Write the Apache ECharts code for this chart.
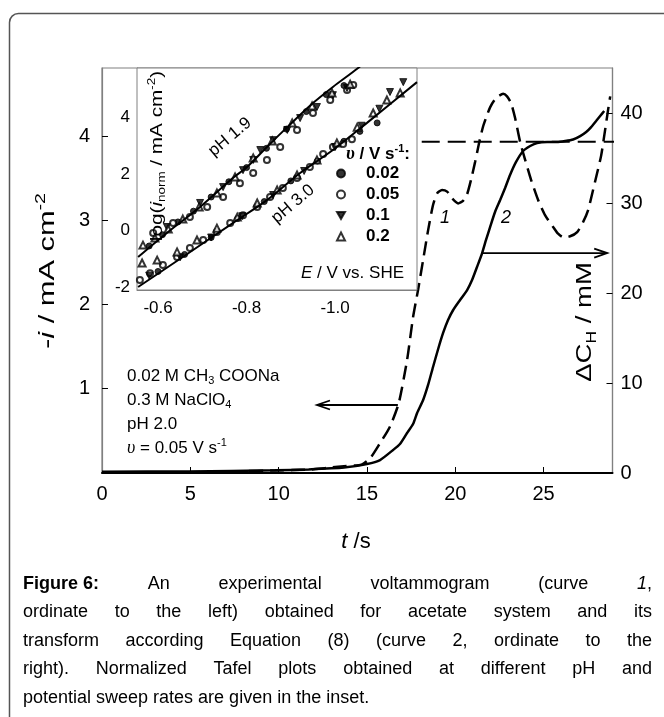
<!DOCTYPE html>
<html><head><meta charset="utf-8">
<script src="https://cdn.jsdelivr.net/npm/echarts@6/dist/echarts.min.js"></script>
<style>html,body{margin:0;padding:0;background:#fff}#c{width:664px;height:717px}</style>
</head><body><div id="c"></div>
<script>
// ---------- main plot data ----------
const tCurve1 = [0,4.9,7.8,9.8,11.7,12.7,13.7,14.7,15.2,15.7,16.3,16.8,17.27,17.61,17.89,18.18,18.46,18.74,18.97,19.25,19.54,19.82,20.16,20.44,20.67,20.89,21.12,21.35,21.57,21.8,21.97,22.2,22.42,22.71,22.93,23.16,23.39,23.67,23.95,24.29,24.69,25.08,25.54,25.82,26.1,26.5,26.9,27.24,27.52,27.8,28.03,28.26,28.48,28.65,28.77];
const iCurve1 = [0.01,0.01,0.02,0.03,0.04,0.06,0.08,0.10,0.18,0.34,0.55,0.83,1.34,1.85,2.17,2.53,2.88,3.18,3.32,3.36,3.34,3.26,3.20,3.23,3.31,3.48,3.69,3.92,4.11,4.25,4.34,4.42,4.47,4.50,4.47,4.39,4.21,3.93,3.72,3.48,3.24,3.06,2.92,2.84,2.80,2.81,2.86,2.98,3.12,3.36,3.56,3.77,4.07,4.31,4.47];
const tCurve2 = [0,4.9,9.8,11.7,13.7,15.0,15.74,16.48,16.87,17.27,17.61,17.84,18.18,18.46,18.74,19.03,19.31,19.59,19.88,20.27,20.67,20.95,21.23,21.52,21.74,21.97,22.25,22.54,22.82,23.1,23.44,23.84,24.24,24.63,25.2,25.76,26.22,26.67,27.07,27.41,27.69,27.97,28.2,28.43];
const cCurve2 = [0.15,0.17,0.30,0.40,0.60,1.0,1.44,2.56,3.22,4.44,5.44,6.67,8.11,9.78,11.78,13.78,15.56,17.0,18.11,19.22,20.33,21.44,22.89,24.44,25.89,27.33,29.0,30.33,31.67,33.11,34.56,35.78,36.33,36.67,36.78,36.78,36.89,37.06,37.44,37.89,38.44,39.11,39.67,40.22];
const tLimit = [18.1, 29.4];
const cLimit = [36.8, 36.8];
const xTickLabels = [0,5,10,15,20,25];
const leftTickLabels = [1,2,3,4];
const rightTickLabels = [0,10,20,30,40];
// ---------- inset data (E / V, log i_norm) ----------
const insetXLabels = [-1.0,-0.8,-0.6];
const insetYLabels = [-2,0,2,4];
const ePH19 = [-0.555,-0.620,-0.695,-0.769,-0.801,-0.846,-0.892,-0.950,-0.995,-1.052,-1.07];
const lPH19 = [-0.94,-0.09,0.83,1.85,2.24,2.95,3.65,4.50,5.07,5.74,6.0];
const ePH30 = [-0.555,-0.656,-0.769,-0.846,-0.921,-0.995,-1.072,-1.185];
const lPH30 = [-2.0,-0.94,0.26,1.07,2.03,2.84,3.80,5.24];
const e19_002 = [-0.58,-0.61,-0.645,-0.68,-0.72,-0.76,-0.80,-0.845,-0.89,-0.935,-0.98,-1.02];
const l19_002 = [-0.55,-0.15,0.30,0.68,1.18,1.72,2.22,2.90,3.58,4.20,4.80,5.12];
const e19_005 = [-0.589,-0.634,-0.672,-0.711,-0.747,-0.785,-0.815,-0.846,-0.876,-0.914,-0.950,-0.989,-1.027,-1.041];
const l19_005 = [-0.09,0.26,0.47,0.83,1.18,1.67,2.03,2.49,2.95,3.55,4.15,4.61,4.96,5.14];
const e19_01 = [-0.62,-0.695,-0.747,-0.792,-0.815,-0.831,-0.860,-0.892,-0.921,-0.959,-0.995,-1.027];
const l19_01 = [0.12,0.97,1.53,2.13,2.49,2.84,3.19,3.55,3.97,4.36,4.78,5.03];
const e19_02 = [-0.566,-0.593,-0.623,-0.656,-0.693,-0.733,-0.774,-0.815,-0.858,-0.903,-0.948,-0.993,-1.034];
const l19_02 = [-0.52,-0.27,0.05,0.40,0.83,1.32,1.89,2.56,3.16,3.80,4.40,4.86,5.17];
const e30_002 = [-0.60,-0.66,-0.72,-0.78,-0.84,-0.90,-0.96,-1.02,-1.056,-1.095];
const l30_002 = [-1.45,-0.85,-0.25,0.42,1.02,1.75,2.45,3.15,3.50,3.80];
const e30_005 = [-0.559,-0.582,-0.611,-0.643,-0.672,-0.702,-0.733,-0.763,-0.792,-0.824,-0.853,-0.882,-0.914,-0.943,-0.973,-0.995,-1.018,-1.038];
const l30_005 = [-1.75,-1.51,-1.22,-0.94,-0.62,-0.34,-0.06,0.26,0.54,0.83,1.18,1.50,1.85,2.24,2.70,2.95,3.05,3.22];
const e30_01 = [-0.58,-0.65,-0.72,-0.79,-0.86,-0.93,-1.00,-1.06,-1.10,-1.124,-1.154];
const l30_01 = [-1.60,-0.95,-0.25,0.50,1.25,2.10,2.95,3.70,4.30,4.89,5.24];
const e30_02 = [-0.564,-0.598,-0.643,-0.688,-0.733,-0.779,-0.824,-0.869,-0.914,-0.959,-1.004,-1.050,-1.086,-1.117,-1.147];
const l30_02 = [-1.15,-1.05,-0.76,-0.34,0.08,0.47,0.97,1.43,1.96,2.49,3.09,3.65,4.15,4.61,4.86];
const rateNames = ['0.02','0.05','0.1','0.2'];

const FF = 'Liberation Sans, Arial, Helvetica, sans-serif';
const SERIF = 'Liberation Serif, DejaVu Serif, serif';
const zip = (a, b) => a.map((v, k) => [v, b[k]]);
function rs(size, o) {
  return Object.assign({fontSize: size, fontFamily: FF, fill: '#000', lineHeight: Math.round(size * 1.25), verticalAlign: 'middle'}, o || {});
}
function richSet(size, bold) {
  const w = bold ? 'bold' : 'normal';
  const sm = Math.round(size * 0.64);
  const lh = Math.round(size * 1.25);
  return {
    n: rs(size, {fontWeight: w, lineHeight: lh}),
    i: rs(size, {fontWeight: w, fontStyle: 'italic', lineHeight: lh}),
    u: rs(size + 1, {fontWeight: w, fontStyle: 'italic', fontFamily: SERIF, lineHeight: lh}),
    s: rs(sm, {fontWeight: w, lineHeight: sm, verticalAlign: 'top'}),
    b: rs(sm, {fontWeight: w, lineHeight: sm, verticalAlign: 'bottom'})
  };
}

const downTri = 'path://M0,0L10,0L5,8.66Z';
function scatter(name, e, l, symbol, size) {
  return {type: 'scatter', name: name, xAxisIndex: 1, yAxisIndex: 2, data: zip(e, l), symbol: symbol, symbolSize: size,
    itemStyle: {color: '#000', borderColor: '#000', borderWidth: 1}, z: 4, silent: true};
}

const chart = echarts.init(document.getElementById('c'), null, {renderer: 'canvas'});
const axisGray = '#808080';
const option = {
  animation: false,
  backgroundColor: '#fff',
  grid: [
    {left: 102, top: 68, width: 510.5, height: 405, show: true, borderColor: axisGray, borderWidth: 1.2, backgroundColor: 'transparent'},
    {left: 137, top: 68, width: 280, height: 222, show: true, borderColor: axisGray, borderWidth: 1, backgroundColor: '#fff', z: 3}
  ],
  xAxis: [
    {gridIndex: 0, type: 'value', min: 0, max: 28.9,
      axisLine: {show: true, onZero: false, lineStyle: {color: '#000', width: 2}},
      axisTick: {show: true, inside: true, length: 6, customValues: [5,10,15,20,25], lineStyle: {color: '#000', width: 1}},
      axisLabel: {customValues: xTickLabels, fontSize: 20, color: '#000', fontFamily: FF, margin: 11},
      splitLine: {show: false}},
    {gridIndex: 1, type: 'value', inverse: true, min: -1.185, max: -0.5525,
      axisLine: {show: true, onZero: false, lineStyle: {color: axisGray, width: 1}},
      axisTick: {show: true, inside: true, length: 6, customValues: insetXLabels, lineStyle: {color: '#000', width: 1}},
      axisLabel: {customValues: insetXLabels, formatter: v => v.toFixed(1), fontSize: 17, color: '#000', fontFamily: FF, margin: 10},
      splitLine: {show: false}}
  ],
  yAxis: [
    {gridIndex: 0, type: 'value', position: 'left', min: 0, max: 4.807,
      axisLine: {show: true, onZero: false, lineStyle: {color: axisGray, width: 1.2}},
      axisTick: {show: true, inside: true, length: 6, customValues: leftTickLabels, lineStyle: {color: '#000', width: 1}},
      axisLabel: {customValues: leftTickLabels, fontSize: 20, color: '#000', fontFamily: FF, margin: 12},
      splitLine: {show: false}},
    {gridIndex: 0, type: 'value', position: 'right', min: 0, max: 45,
      axisLine: {show: true, onZero: false, lineStyle: {color: axisGray, width: 1.2}},
      axisTick: {show: true, inside: true, length: 6, customValues: [10,20,30,40], lineStyle: {color: '#000', width: 1}},
      axisLabel: {customValues: rightTickLabels, fontSize: 20, color: '#000', fontFamily: FF, margin: 8},
      splitLine: {show: false}},
    {gridIndex: 1, type: 'value', min: -2.106, max: 5.74,
      axisLine: {show: true, onZero: false, lineStyle: {color: axisGray, width: 1}},
      axisTick: {show: false},
      axisLabel: {customValues: insetYLabels, fontSize: 17, color: '#000', fontFamily: FF, margin: 7},
      splitLine: {show: false}}
  ],
  legend: {
    data: rateNames, orient: 'vertical', left: 336, top: 165, itemWidth: 8, itemHeight: 8, itemGap: 4, padding: 0,
    selectedMode: false,
    formatter: n => '{g|}{v|' + n + '}',
    textStyle: {color: '#000', fontFamily: FF, fontSize: 17, fontWeight: 'bold',
      rich: {g: {width: 16}, v: {fontSize: 17, fontWeight: 'bold', fontFamily: FF, lineHeight: 19}}}
  },
  series: [
    {type: 'line', name: 'curve1', xAxisIndex: 0, yAxisIndex: 0, data: zip(tCurve1, iCurve1), showSymbol: false, smooth: 0.2,
      lineStyle: {color: '#000', width: 2.5, type: [14, 7]}, z: 2, silent: true},
    {type: 'line', name: 'curve2', xAxisIndex: 0, yAxisIndex: 1, data: zip(tCurve2, cCurve2), showSymbol: false, smooth: 0.2,
      lineStyle: {color: '#000', width: 2.5}, z: 2, silent: true},
    {type: 'line', name: 'limit', xAxisIndex: 0, yAxisIndex: 1, data: zip(tLimit, cLimit), showSymbol: false, clip: false,
      lineStyle: {color: '#000', width: 2, type: [18, 8]}, z: 2, silent: true},
    scatter('0.02', e19_002, l19_002, 'circle', 6),
    scatter('0.05', e19_005, l19_005, 'emptyCircle', 6),
    scatter('0.1', e19_01, l19_01, downTri, 7),
    scatter('0.2', e19_02, l19_02, 'emptyTriangle', 7),
    scatter('0.02', e30_002, l30_002, 'circle', 6),
    scatter('0.05', e30_005, l30_005, 'emptyCircle', 6),
    scatter('0.1', e30_01, l30_01, downTri, 7),
    scatter('0.2', e30_02, l30_02, 'emptyTriangle', 7),
    {type: 'line', name: 'pH 1.9', xAxisIndex: 1, yAxisIndex: 2, data: zip(ePH19, lPH19), showSymbol: false, smooth: 0.3,
      lineStyle: {color: '#000', width: 2}, z: 6, silent: true},
    {type: 'line', name: 'pH 3.0', xAxisIndex: 1, yAxisIndex: 2, data: zip(ePH30, lPH30), showSymbol: false, smooth: 0.3,
      lineStyle: {color: '#000', width: 2}, z: 6, silent: true}
  ]
};
chart.setOption(option);

// ---------- annotations ----------
const g = [];
g.push({type: 'rect', shape: {x: 9.5, y: 13.5, width: 720, height: 760, r: 9}, style: {fill: 'none', stroke: '#555', lineWidth: 1.5}, silent: true, z: 1});
const R22 = richSet(22), R17 = richSet(17), R17b = richSet(17, true), R18 = richSet(18);
function T(x, y, text, rich, align, rot, sx) {
  return {type: 'text', x: x, y: y, z: 100, silent: true, rotation: rot || 0, scaleX: sx || 1, scaleY: 1,
    style: {text: text, rich: rich, align: align || 'center', verticalAlign: 'middle'}};
}
// rotated axis titles (stretched along the text direction as in the source image)
g.push(T(48, 271, '{n|-}{i|i}{n| / mA cm}{s|-2}', R22, 'center', Math.PI / 2, 1.4));
g.push(T(585, 322, '{n|ΔC}{b|H}{n| / mM}', R22, 'center', Math.PI / 2, 1.25));
g.push(T(356, 542, '{i|t}{n| /s}', R22, 'center'));
// text block
const blockLines = ['{n|0.02 M CH}{b|3}{n| COONa}', '{n|0.3 M NaClO}{b|4}', '{n|pH 2.0}', '{u|υ}{n| = 0.05 V s}{s|-1}'];
blockLines.forEach((s, k) => g.push(T(127, 376 + k * 24, s, R17, 'left')));
// curve labels
g.push(T(445, 218, '{i|1}', R18));
g.push(T(506, 218, '{i|2}', R18));
// inset texts
g.push(T(157, 156, '{n|log(}{i|i}{b|norm}{n| / mA cm}{s|-2}{n|)}', R17, 'center', Math.PI / 2, 1.22));
g.push(T(230, 137, '{n|pH 1.9}', R17, 'center', 40 * Math.PI / 180));
g.push(T(293, 204, '{n|pH 3.0}', R17, 'center', 40 * Math.PI / 180));
g.push(T(410, 154, '{u|υ}{n| / V s}{s|-1}{n|:}', R17b, 'right'));
g.push(T(404, 273, '{i|E}{n| / V vs. SHE}', R17, 'right'));

// arrows anchored to data
function px(t, v, yi) { return chart.convertToPixel({xAxisIndex: 0, yAxisIndex: yi}, [t, v]); }
function arrow(a, b) {
  const dir = b[0] > a[0] ? 1 : -1;
  g.push({type: 'polyline', shape: {points: [a, b]}, style: {stroke: '#000', lineWidth: 1.8, fill: 'none'}, silent: true, z: 50});
  g.push({type: 'polyline', shape: {points: [[b[0] - dir * 13, b[1] - 4.5], b, [b[0] - dir * 13, b[1] + 4.5]]}, style: {stroke: '#000', lineWidth: 1.8, fill: 'none'}, silent: true, z: 50});
}
arrow(px(16.75, 0.807, 0), px(12.17, 0.807, 0));
arrow(px(21.52, 24.44, 1), px(28.6, 24.44, 1));

// ---------- caption, justified ----------
const capSize = 18;
const capLines = [
  '{b|Figure 6:} An experimental voltammogram (curve {i|1},',
  'ordinate to the left) obtained for acetate system and its',
  'transform according Equation (8) (curve 2, ordinate to the',
  'right). Normalized Tafel plots obtained at different pH and',
  'potential sweep rates are given in the inset.'
];
const capY = [584, 612, 641, 669, 698];
const capL = 23, capR = 652;
const ctx = document.createElement('canvas').getContext('2d');
function fontOf(k) { return (k === 'i' ? 'italic ' : '') + (k === 'b' ? 'bold ' : '') + capSize + 'px ' + FF; }
function splitTokens(line) {
  const out = []; let cur = ''; let depth = 0;
  for (const ch of line) {
    if (ch === '{') depth++;
    if (ch === '}') depth--;
    if (ch === ' ' && depth === 0) { out.push(cur); cur = ''; } else cur += ch;
  }
  out.push(cur);
  return out;
}
function measureToken(tok) {
  let w = 0; const re = /\{(\w)\|([^}]*)\}|([^{]+)/g; let m; let out = '';
  while ((m = re.exec(tok))) {
    const k = m[1] || 'n'; const s = m[1] ? m[2] : m[3];
    ctx.font = fontOf(k); w += ctx.measureText(s).width;
    out += '{' + k + '|' + s + '}';
  }
  return {w: w, text: out};
}
const capRich = {
  n: {fontSize: capSize, fontFamily: FF, fill: '#000'},
  i: {fontSize: capSize, fontFamily: FF, fontStyle: 'italic', fill: '#000'},
  b: {fontSize: capSize, fontFamily: FF, fontWeight: 'bold', fill: '#000'}
};
capLines.forEach((line, li) => {
  const toks = splitTokens(line).map(measureToken);
  const total = toks.reduce((s, t) => s + t.w, 0);
  ctx.font = fontOf('n');
  const space = ctx.measureText(' ').width;
  const last = li === capLines.length - 1;
  const gap = last ? space : (capR - capL - total) / (toks.length - 1);
  let x = capL;
  toks.forEach(t => {
    g.push({type: 'text', x: x, y: capY[li], silent: true, z: 100, style: {text: t.text, rich: capRich, align: 'left', verticalAlign: 'middle', fontSize: capSize, fontFamily: FF, fill: '#000'}});
    x += t.w + gap;
  });
});

chart.setOption({graphic: {elements: g}});
</script>
</body></html>
